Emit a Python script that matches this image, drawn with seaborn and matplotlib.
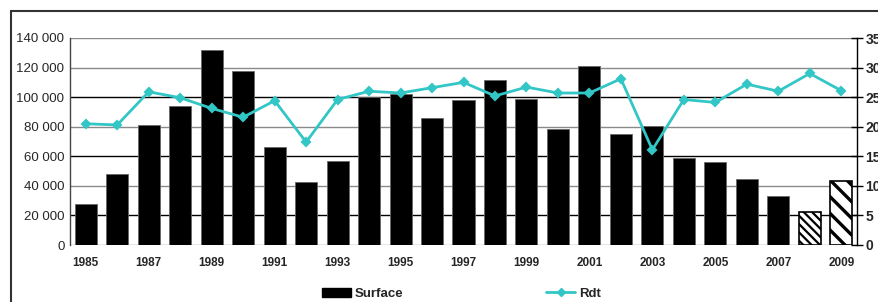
import numpy as np
import pandas as pd
import matplotlib
matplotlib.use("Agg")
import matplotlib.pyplot as plt
import seaborn as sns
from matplotlib.patches import Rectangle, Patch
from matplotlib.lines import Line2D

years = list(range(1985, 2010))
surface = [27500, 47800, 81000, 94000, 132000, 118000, 66500, 42800, 57000, 100000,
           102000, 86000, 98000, 111500, 98500, 78200, 121000, 75000, 80500, 58800,
           56000, 44800, 33000, 22000, 43500]
rdt = [20.5, 20.3, 25.9, 24.9, 23.1, 21.6, 24.4, 17.4, 24.6, 26.0,
       25.7, 26.6, 27.5, 25.2, 26.7, 25.7, 25.7, 28.1, 16.1, 24.6,
       24.1, 27.2, 26.0, 29.0, 26.1]
left_ticks = [0, 20000, 40000, 60000, 80000, 100000, 120000, 140000]
left_labels = ["0", "20 000", "40 000", "60 000", "80 000", "100 000", "120 000", "140 000"]
right_ticks = [0, 5, 10, 15, 20, 25, 30, 35]

sns.set_theme(style="white")
plt.rcParams['font.family'] = ['Liberation Sans', 'DejaVu Sans']
plt.rcParams['hatch.linewidth'] = 2.0

df = pd.DataFrame({"year": [str(y) for y in years], "Surface": surface, "Rdt": rdt})

fig = plt.figure(figsize=(8.79, 3.02), dpi=100)
ax = fig.add_axes([70/879, 1-245/302, (857-70)/879, (245-38)/302])

# gridlines
for i, t in enumerate(left_ticks):
    col = "black" if t in (20000, 60000, 100000) else "#8a8a8a"
    ax.axhline(t, color=col, lw=1.0, zorder=0)

sns.barplot(data=df, x="year", y="Surface", color="black", width=0.7,
            saturation=1, ax=ax, zorder=2)
for i, p in enumerate(ax.patches):
    p.set_edgecolor("#666666")
    p.set_linewidth(0.6)
    if years[i] == 2008:
        p.set_facecolor("white")
        p.set_edgecolor("black")
        p.set_linewidth(1.2)
        p.set_hatch("\\\\\\\\")
        if hasattr(p, "set_hatch_linewidth"):
            p.set_hatch_linewidth(1.6)
    elif years[i] == 2009:
        p.set_facecolor("white")
        p.set_edgecolor("black")
        p.set_linewidth(1.2)
        p.set_hatch("\\\\")
        if hasattr(p, "set_hatch_linewidth"):
            p.set_hatch_linewidth(2.4)

ax.set_xlim(-0.5, len(years) - 0.5)
ax.set_ylim(0, 140000)
ax.set_yticks(left_ticks)
ax.set_yticklabels(left_labels, fontsize=9.5)
ax.set_xticks(range(0, len(years), 2))
ax.set_xticklabels([str(y) for y in years[::2]], fontsize=8.5, fontweight="bold")
ax.tick_params(axis="x", length=0, pad=9)
ax.tick_params(axis="y", length=0, pad=4)
ax.set_xlabel("")
ax.set_ylabel("")
for s in ["top", "right", "bottom"]:
    ax.spines[s].set_visible(False)
ax.spines["left"].set_color("#444444")
ax.spines["left"].set_linewidth(1.0)

ax2 = ax.twinx()
sns.pointplot(data=df, x="year", y="Rdt", color="#33C6C6", markers="D",
              markersize=4, linewidth=2.0, ax=ax2, zorder=3)
ax2.set_xlim(-0.5, len(years) - 0.5)
ax2.set_ylim(0, 35)
ax2.set_yticks(right_ticks)
ax2.set_yticklabels([str(t) for t in right_ticks], fontsize=10, fontweight="bold")
ax2.tick_params(axis="y", direction="inout", length=8, width=1.0, color="black", pad=2, right=True)
ax2.set_ylabel("")
ax2.set_xlabel("")
for s in ["top", "left", "bottom"]:
    ax2.spines[s].set_visible(False)
ax2.spines["right"].set_color("black")
ax2.spines["right"].set_linewidth(1.0)

# outer frame (cropped at right/bottom)
fig.patches.append(Rectangle((11/879, -0.2), 1.2, (302-11)/302 + 0.2,
                             transform=fig.transFigure, fill=False,
                             edgecolor="#333333", lw=1.5, zorder=-1))

handles = [Patch(facecolor="black", edgecolor="black"),
           Line2D([0], [0], color="#33C6C6", lw=2, marker="D", markersize=4)]
leg = fig.legend(handles, ["Surface", "Rdt"], loc="center", bbox_to_anchor=(0.525, 0.027),
                 ncol=2, frameon=False, columnspacing=10.8, handlelength=2.2,
                 handletextpad=0.3, prop={"weight": "bold", "size": 9.5})

fig.savefig("out.png", dpi=100)
